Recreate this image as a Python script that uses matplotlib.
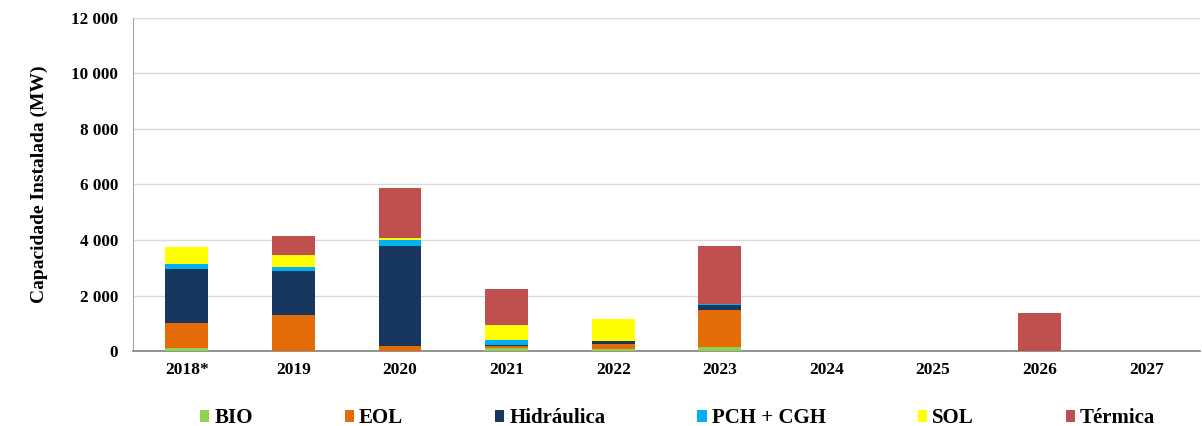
import matplotlib.pyplot as plt
import numpy as np

plt.rcParams['font.family'] = ['Liberation Serif', 'DejaVu Serif']
plt.rcParams['font.weight'] = 'bold'
plt.rcParams['axes.labelweight'] = 'bold'

# installed capacity additions by source (MW)
anos = ['2018*', '2019', '2020', '2021', '2022', '2023', '2024', '2025', '2026', '2027']
bio = [100, 10, 0, 120, 60, 150, 0, 0, 0, 0]
eol = [920, 1290, 170, 60, 210, 1330, 0, 0, 0, 0]
hidraulica = [1925, 1600, 3625, 20, 90, 170, 0, 0, 0, 0]
pch_cgh = [180, 110, 215, 200, 0, 60, 0, 0, 0, 0]
sol = [610, 450, 70, 550, 780, 0, 0, 0, 0, 0]
termica = [20, 690, 1800, 1300, 0, 2080, 0, 0, 1380, 0]

series = [
    ('BIO', bio, '#92D050'),
    ('EOL', eol, '#E36C09'),
    ('Hidráulica', hidraulica, '#17375E'),
    ('PCH + CGH', pch_cgh, '#00B0F0'),
    ('SOL', sol, '#FFFF00'),
    ('Térmica', termica, '#C0504D'),
]

fig = plt.figure(figsize=(12.02, 4.26), dpi=100)
ax = fig.add_axes([0.111, 0.176, 0.887, 0.782])

x = np.arange(len(anos))
base = np.zeros(len(anos))
for nome, vals, cor in series:
    vals = np.array(vals, dtype=float)
    ax.bar(x, vals, 0.4, bottom=base, color=cor, label=nome, zorder=3)
    base += vals

ax.set_xlim(-0.5, len(anos) - 0.5)
ax.set_ylim(0, 12000)
ax.set_yticks(range(0, 12001, 2000))
ax.set_yticklabels([f'{v:,}'.replace(',', ' ') for v in range(0, 12001, 2000)], fontsize=12.3)
ax.set_xticks(x)
ax.set_xticklabels(anos, fontsize=12.5)
ax.tick_params(axis='y', length=0, pad=11)
ax.tick_params(axis='x', length=0, pad=8)
ax.grid(axis='y', color='#D9D9D9', linewidth=1, zorder=0)

for s in ['top', 'right']:
    ax.spines[s].set_visible(False)
ax.spines['left'].set_color('#A6A6A6')
ax.spines['bottom'].set_color('#808080')
ax.spines['bottom'].set_linewidth(1.2)

ax.set_ylabel('Capacidade Instalada (MW)', fontsize=14, labelpad=17)

fig.legend(loc='center', bbox_to_anchor=(0.5637, 0.018), bbox_transform=fig.transFigure,
           ncol=6, frameon=False, fontsize=15, handlelength=0.45, handleheight=0.45,
           handletextpad=0.25, columnspacing=4.4)

fig.savefig('out.png', dpi=100)
